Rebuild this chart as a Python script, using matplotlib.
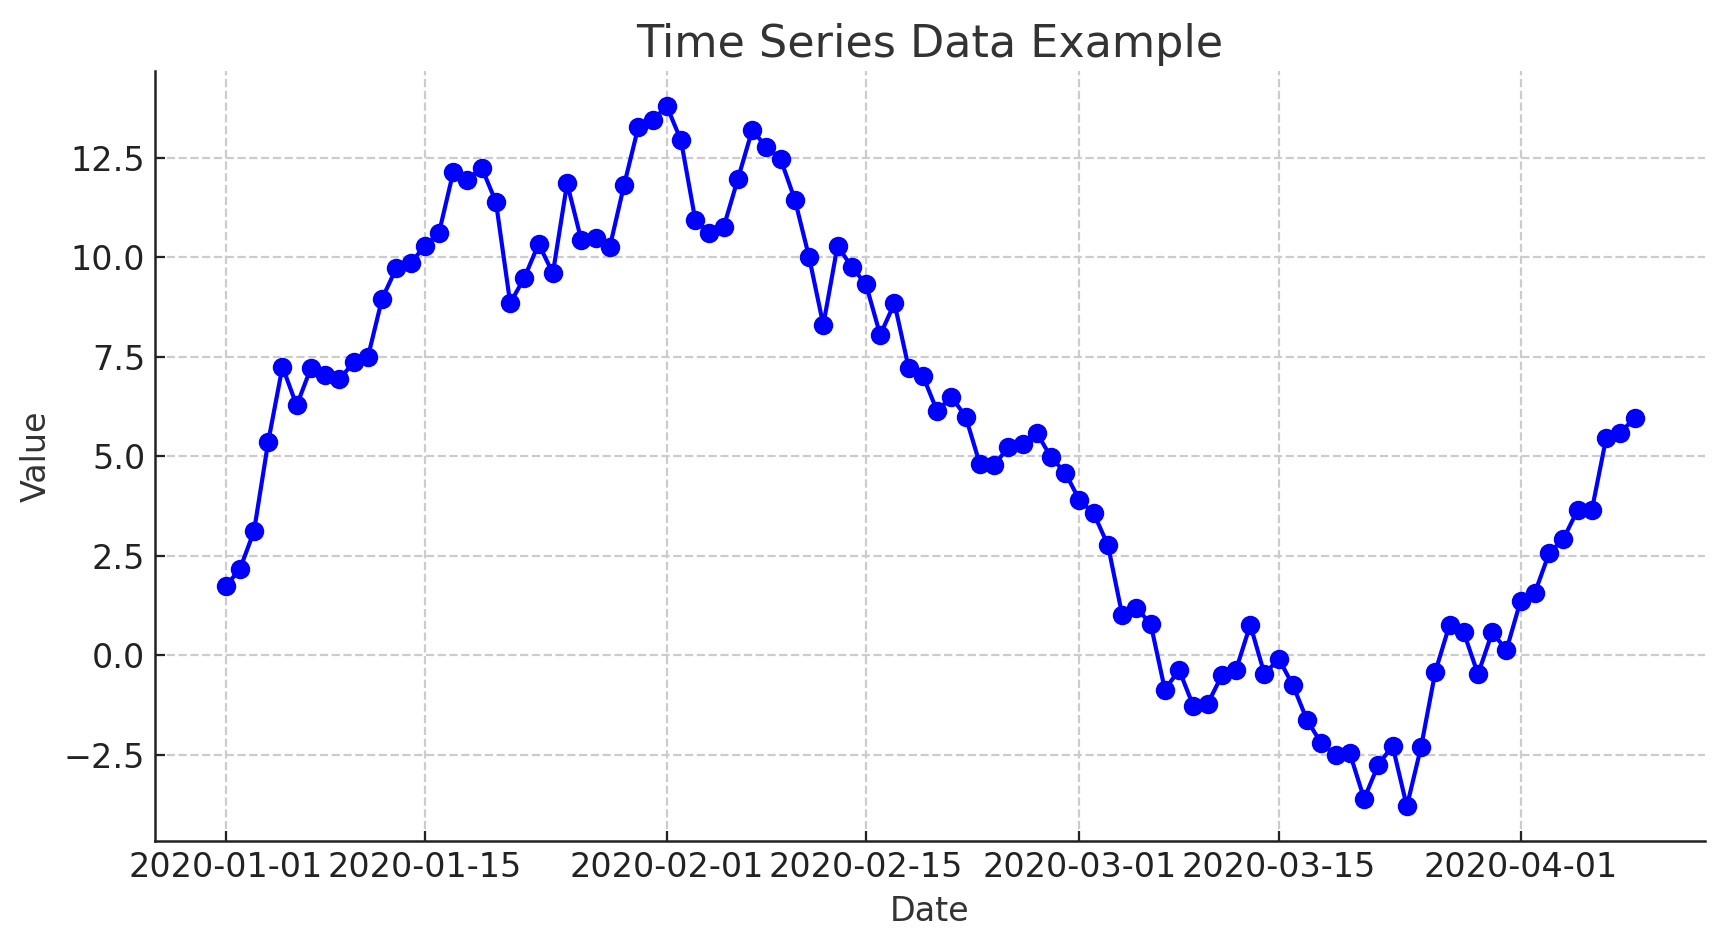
import pandas as pd
import matplotlib
matplotlib.use("Agg")
import matplotlib.pyplot as plt
import matplotlib.dates as mdates

# daily values, 2020-01-01 .. 2020-04-09
dates = pd.date_range("2020-01-01", "2020-04-09", freq="D")

jan = [1.74, 2.16, 3.12, 5.37, 7.25, 6.28, 7.22, 7.05, 6.94, 7.36,
       7.49, 8.96, 9.73, 9.85, 10.29, 10.62, 12.14, 11.95, 12.25, 11.39,
       8.85, 9.49, 10.34, 9.60, 11.86, 10.43, 10.48, 10.26, 11.81, 13.27,
       13.44]
feb = [13.80, 12.94, 10.95, 10.62, 10.76, 11.97, 13.19, 12.78, 12.47, 11.45,
       10.01, 8.30, 10.29, 9.76, 9.32, 8.05, 8.85, 7.22, 7.02, 6.14,
       6.50, 6.00, 4.81, 4.78, 5.23, 5.31, 5.59, 4.98, 4.59]
mar = [3.90, 3.57, 2.77, 1.02, 1.19, 0.80, -0.86, -0.36, -1.27, -1.22,
       -0.50, -0.36, 0.77, -0.47, -0.08, -0.75, -1.63, -2.21, -2.49, -2.46,
       -3.60, -2.74, -2.27, -3.79, -2.30, -0.41, 0.77, 0.58, -0.47, 0.58,
       0.14]
apr = [1.38, 1.58, 2.57, 2.93, 3.65, 3.65, 5.45, 5.59, 5.97]

values = jan + feb + mar + apr

TEXT = "#333333"
plt.rcParams["font.family"] = "DejaVu Sans"

fig = plt.figure(figsize=(8.625, 4.735), dpi=200)
ax = fig.add_axes([0.0899, 0.1115, 0.8985, 0.8135])

ax.plot(dates, values, color="blue", marker="o", lw=1.5, ms=6)

ax.set_title("Time Series Data Example", fontsize=16, color=TEXT, pad=5)
ax.set_xlabel("Date", fontsize=12, color=TEXT)
ax.set_ylabel("Value", fontsize=12, color=TEXT)

ax.xaxis.set_major_locator(mdates.DayLocator(bymonthday=[1, 15]))
ax.xaxis.set_major_formatter(mdates.DateFormatter("%Y-%m-%d"))
ax.set_yticks([-2.5, 0.0, 2.5, 5.0, 7.5, 10.0, 12.5])

ax.grid(True, ls="--", color="#cccccc", lw=0.8)
ax.set_axisbelow(True)
for s in ("top", "right"):
    ax.spines[s].set_visible(False)
for s in ("left", "bottom"):
    ax.spines[s].set_linewidth(0.9)
    ax.spines[s].set_color("#222222")
ax.tick_params(direction="in", length=3.5, width=0.8, labelsize=12,
               labelcolor="#222222", color="#222222")

fig.savefig("out.png", dpi=200)
